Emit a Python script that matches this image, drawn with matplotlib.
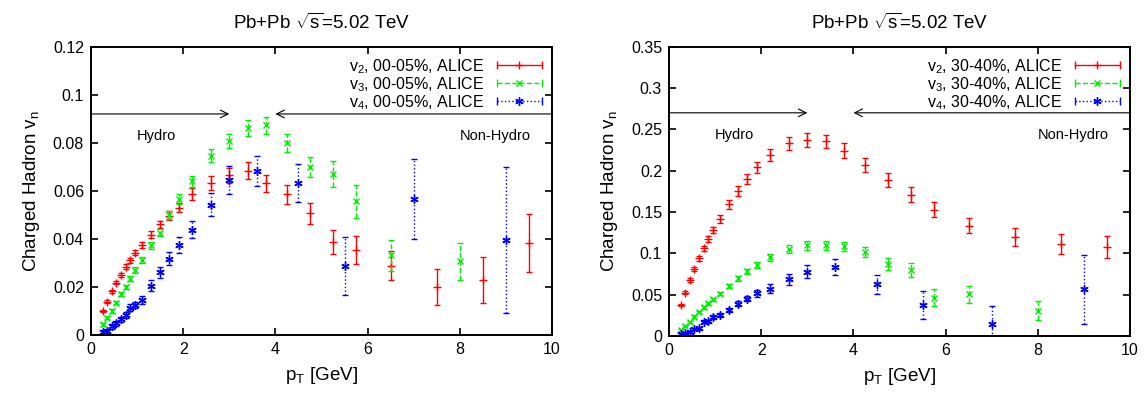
import matplotlib
matplotlib.use('Agg')
import matplotlib.pyplot as plt
from matplotlib.lines import Line2D
from matplotlib.legend_handler import HandlerBase
import numpy as np

plt.rcParams['font.family'] = ['Liberation Sans', 'DejaVu Sans']
plt.rcParams['mathtext.fontset'] = 'custom'
plt.rcParams['mathtext.rm'] = 'Liberation Sans'
plt.rcParams['mathtext.it'] = 'Liberation Sans'

# pT bins (GeV)
pt_fine = [0.25, 0.35, 0.45, 0.55, 0.65, 0.75, 0.85, 0.95, 1.1, 1.3, 1.5, 1.7, 1.9,
           2.2, 2.6, 3.0, 3.4, 3.8, 4.25, 4.75, 5.25, 5.75, 6.5, 7.5, 8.5, 9.5]
pt_v3 = pt_fine[:23] + [8.0]
pt_v4 = pt_fine[:16] + [3.6, 4.5, 5.5, 7.0, 9.0]

# 00-05% centrality
c0_v2 = [0.0100, 0.0139, 0.0182, 0.0218, 0.0250, 0.0285, 0.0311, 0.0343, 0.0376, 0.0418,
         0.0460, 0.0497, 0.0530, 0.0586, 0.0632, 0.0664, 0.0683, 0.0631, 0.0585, 0.0506,
         0.0386, 0.0354, 0.0289, 0.0200, 0.0229, 0.0382]
c0_v2_err = [0.0005, 0.0005, 0.0006, 0.0007, 0.0008, 0.0009, 0.0010, 0.0011, 0.0012, 0.0014,
             0.0016, 0.0018, 0.0020, 0.0025, 0.0030, 0.0032, 0.0035, 0.0035, 0.0038, 0.0042,
             0.0049, 0.0058, 0.0059, 0.0074, 0.0097, 0.0120]
c0_v3 = [0.0044, 0.0072, 0.0100, 0.0135, 0.0169, 0.0200, 0.0235, 0.0271, 0.0311, 0.0374,
         0.0426, 0.0499, 0.0565, 0.0639, 0.0747, 0.0808, 0.0860, 0.0872, 0.0800, 0.0699,
         0.0669, 0.0556, 0.0331, 0.0306]
c0_v3_err = [0.0006, 0.0006, 0.0007, 0.0008, 0.0008, 0.0009, 0.0010, 0.0011, 0.0012, 0.0014,
             0.0016, 0.0018, 0.0020, 0.0024, 0.0028, 0.0030, 0.0033, 0.0035, 0.0037, 0.0042,
             0.0054, 0.0069, 0.0065, 0.0078]
c0_v4 = [0.0014, 0.0018, 0.0036, 0.0049, 0.0065, 0.0082, 0.0114, 0.0125, 0.0147, 0.0206,
         0.0261, 0.0318, 0.0376, 0.0438, 0.0543, 0.0644, 0.0683, 0.0632, 0.0288, 0.0565,
         0.0396]
c0_v4_err = [0.0008, 0.0008, 0.0009, 0.0010, 0.0011, 0.0012, 0.0013, 0.0014, 0.0016, 0.0022,
             0.0024, 0.0028, 0.0033, 0.0036, 0.0047, 0.0058, 0.0063, 0.0078, 0.0120, 0.0167,
             0.0305]

# 30-40% centrality
c3_v2 = [0.0372, 0.0522, 0.0676, 0.0813, 0.0939, 0.1060, 0.1173, 0.1278, 0.1416, 0.1594,
         0.1756, 0.1901, 0.2039, 0.2189, 0.2330, 0.2370, 0.2354, 0.2241, 0.2071, 0.1885,
         0.1707, 0.1529, 0.1335, 0.1197, 0.1108, 0.1076]
c3_v2_err = [0.0015, 0.0020, 0.0023, 0.0026, 0.0028, 0.0030, 0.0033, 0.0036, 0.0046, 0.0053,
             0.0060, 0.0063, 0.0067, 0.0072, 0.0080, 0.0080, 0.0083, 0.0090, 0.0087, 0.0087,
             0.0090, 0.0093, 0.0093, 0.0107, 0.0120, 0.0135]
c3_v3 = [0.0077, 0.0121, 0.0174, 0.0235, 0.0291, 0.0348, 0.0396, 0.0445, 0.0514, 0.0607,
         0.0696, 0.0785, 0.0858, 0.0951, 0.1048, 0.1100, 0.1100, 0.1084, 0.1015, 0.0870,
         0.0800, 0.0465, 0.0506, 0.0307]
c3_v3_err = [0.0012, 0.0012, 0.0013, 0.0014, 0.0015, 0.0016, 0.0017, 0.0018, 0.0020, 0.0023,
             0.0026, 0.0030, 0.0034, 0.0040, 0.0048, 0.0055, 0.0055, 0.0058, 0.0060, 0.0070,
             0.0083, 0.0107, 0.0103, 0.0117]
c3_v4 = [0.0020, 0.0032, 0.0049, 0.0085, 0.0093, 0.0170, 0.0178, 0.0230, 0.0255, 0.0316,
         0.0388, 0.0453, 0.0518, 0.0574, 0.0684, 0.0777, 0.0829, 0.0623, 0.0372, 0.0150,
         0.0566]
c3_v4_err = [0.0012, 0.0013, 0.0014, 0.0015, 0.0016, 0.0018, 0.0019, 0.0020, 0.0022, 0.0026,
             0.0030, 0.0035, 0.0042, 0.0050, 0.0070, 0.0080, 0.0097, 0.0110, 0.0168, 0.0210,
             0.0415]

panels = [
    ('00-05%', c0_v2, c0_v2_err, c0_v3, c0_v3_err, c0_v4, c0_v4_err,
     0.12, [0, 0.02, 0.04, 0.06, 0.08, 0.1, 0.12], 0.092, 0.083),
    ('30-40%', c3_v2, c3_v2_err, c3_v3, c3_v3_err, c3_v4, c3_v4_err,
     0.35, [0, 0.05, 0.1, 0.15, 0.2, 0.25, 0.3, 0.35], 0.27, 0.243),
]

styles = [('#ff0000', '-', '+', 6), ('#00ee00', '--', 'x', 4.5), ('#0000ff', ':', (6, 2, 0), 6)]


class GnuHandler(HandlerBase):
    # legend sample: horizontal line with caps at both ends and a marker in the middle
    def create_artists(self, legend, orig, xd, yd, w, h, fontsize, trans):
        c, ls, m, ms = orig.gnu_style
        y = (h - yd) / 2
        x0, x1 = -xd, -xd + w
        line = Line2D([x0, x1], [y, y], color=c, ls=ls, lw=1)
        caps = Line2D([x0, x1], [y, y], color=c, ls='none', marker='|', ms=6, mew=1)
        mk = Line2D([(x0 + x1) / 2], [y], color=c, ls='none', marker=m, ms=ms, mew=1)
        for a in (line, caps, mk):
            a.set_transform(trans)
        return [line, caps, mk]


fig = plt.figure(figsize=(11.46, 3.98), dpi=100)
ax_pos = [[0.0794, 0.1583, 0.4023, 0.7244], [0.5838, 0.1558, 0.4023, 0.7269]]

for pos, (cent, v2, e2, v3, e3, v4, e4, ymax, yt, yarrow, ytext) in zip(ax_pos, panels):
    ax = fig.add_axes(pos)
    handles = []
    for (x, y, e, n), (c, ls, m, ms) in zip([(pt_fine, v2, e2, 2), (pt_v3, v3, e3, 3), (pt_v4, v4, e4, 4)], styles):
        eb = ax.errorbar(x, y, yerr=e, fmt='none', ecolor=c, elinewidth=1, capsize=2.5, capthick=1)
        eb[2][0].set_linestyle(ls)
        ax.plot(x, y, ls='none', marker=m, color=c, ms=ms, mew=1)
        h = Line2D([], [])
        h.gnu_style = (c, ls, m, ms)
        h.set_label(r'v$_%d$, %s, ALICE' % (n, cent))
        handles.append(h)

    ax.annotate('', xy=(3.0, yarrow), xytext=(0, yarrow),
                arrowprops=dict(arrowstyle='->', lw=0.8, color='black', shrinkA=0, shrinkB=0, mutation_scale=14))
    ax.annotate('', xy=(4.0, yarrow), xytext=(10, yarrow),
                arrowprops=dict(arrowstyle='->', lw=0.8, color='black', shrinkA=0, shrinkB=0, mutation_scale=14))
    ax.text(1.0, ytext, 'Hydro', fontsize=10.5, va='center', ha='left')
    ax.text(8.0, ytext, 'Non-Hydro', fontsize=10.5, va='center', ha='left')

    ax.set_xlim(0, 10)
    ax.set_ylim(0, ymax)
    ax.set_xticks([0, 2, 4, 6, 8, 10])
    ax.set_yticks(yt)
    ax.set_yticklabels(['%g' % t for t in yt])
    ax.tick_params(direction='in', top=True, right=True, labelsize=11.5, length=5, width=1.2, pad=5)
    for s in ax.spines.values():
        s.set_linewidth(1.4)
    ax.set_xlabel(r'p$_\mathregular{T}$ [GeV]', fontsize=13.5, labelpad=6)
    ax.set_ylabel(r'Charged Hadron v$_\mathregular{n}$', fontsize=13.5, labelpad=8)
    ax.set_title(r'Pb+Pb $\sqrt{\mathregular{s}}$=5.02 TeV', fontsize=13.5, pad=13)

    leg = ax.legend(handles=handles, loc='upper right', frameon=False, fontsize=11.5,
                    markerfirst=False, handlelength=2.8, labelspacing=-0.05, borderaxespad=0.25,
                    handletextpad=0.8, handler_map={Line2D: GnuHandler()})

fig.savefig('out.png', dpi=100)
